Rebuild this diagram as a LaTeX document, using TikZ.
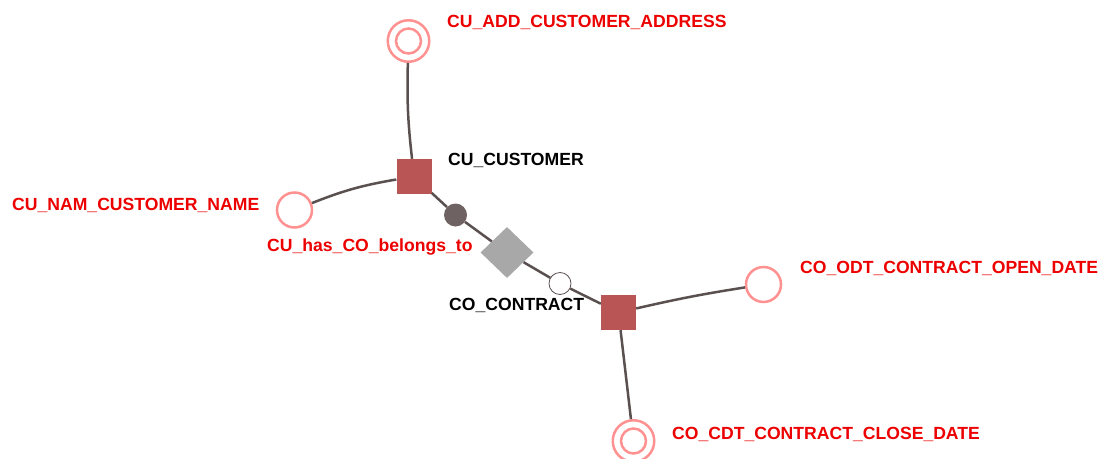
\documentclass[tikz,border=0pt]{standalone}
\usepackage{fontspec}
\setmainfont{Liberation Sans}
\usetikzlibrary{shapes.geometric}
\definecolor{lblred}{RGB}{236,0,0}
\definecolor{attrpink}{RGB}{255,145,145}
\definecolor{anchorred}{RGB}{186,85,85}
\definecolor{edgegray}{RGB}{90,80,80}
\definecolor{knotgray}{RGB}{110,98,98}
\definecolor{tiegray}{RGB}{168,168,168}
\tikzset{
  attr/.style={circle, draw=attrpink, line width=2.5pt, fill=white, minimum size=#1, inner sep=0pt},
  anchorbox/.style={rectangle, fill=anchorred, minimum size=35pt, inner sep=0pt},
  tiebox/.style={diamond, fill=tiegray, minimum width=53pt, minimum height=51pt, inner sep=0pt},
  knotdark/.style={circle, fill=knotgray, minimum size=23pt, inner sep=0pt},
  knotwhite/.style={circle, fill=white, draw=edgegray, line width=0.8pt, minimum size=22pt, inner sep=0pt},
  conn/.style={draw=edgegray, line width=2.5pt},
  redlbl/.style={anchor=base west, inner sep=0pt, text=lblred, font=\fontsize{17.6}{20}\selectfont\bfseries},
  blacklbl/.style={anchor=base west, inner sep=0pt, text=black, font=\fontsize{17.6}{20}\selectfont\bfseries},
}
\begin{document}
\begin{tikzpicture}[x=1pt,y=-1pt]
\useasboundingbox (0,0) rectangle (1102,458);
\clip (0,0) rectangle (1102,458);
% nodes
\node[attr=41.5pt] (add) at (408.5,41) {};
\node[attr=35pt] (nam) at (294.5,210) {};
\node[anchorbox] (cu) at (414,176.5) {};
\node[knotdark] (k1) at (455.5,215) {};
\node[tiebox] (tie) at (507,252.5) {};
\node[knotwhite] (k2) at (560,283.5) {};
\node[anchorbox] (co) at (618.5,312.5) {};
\node[attr=35pt] (odt) at (763.5,284.5) {};
\node[attr=41.5pt] (cdt) at (633.5,441) {};
% inner rings
\draw[draw=attrpink, line width=2.5pt] (add.center) circle[radius=12.5];
\draw[draw=attrpink, line width=2.5pt] (cdt.center) circle[radius=12.5];
% connectors
\draw[conn] (add) to[bend right=4] (cu);
\draw[conn] (nam) to[bend left=6] (cu);
\draw[conn] (cu) -- (k1);
\draw[conn] (k1) -- (tie);
\draw[conn] (tie) -- (k2);
\draw[conn] (k2) -- (co);
\draw[conn] (co) to[bend left=2] (odt);
\draw[conn] (co) -- (cdt);
% labels
\node[redlbl] (laddl) at (447,27) {CU\_ADD\_CUSTOMER\_ADDRESS};
\node[blacklbl] (lcu) at (448,165) {CU\_CUSTOMER};
\node[redlbl] (lnam) at (12,210) {CU\_NAM\_CUSTOMER\_NAME};
\node[redlbl] (ltie) at (267,251) {CU\_has\_CO\_belongs\_to};
\node[blacklbl] (lco) at (449,310) {CO\_CONTRACT};
\node[redlbl] (lodt) at (800,273) {CO\_ODT\_CONTRACT\_OPEN\_DATE};
\node[redlbl] (lcdt) at (672,439) {CO\_CDT\_CONTRACT\_CLOSE\_DATE};
\end{tikzpicture}
\end{document}
